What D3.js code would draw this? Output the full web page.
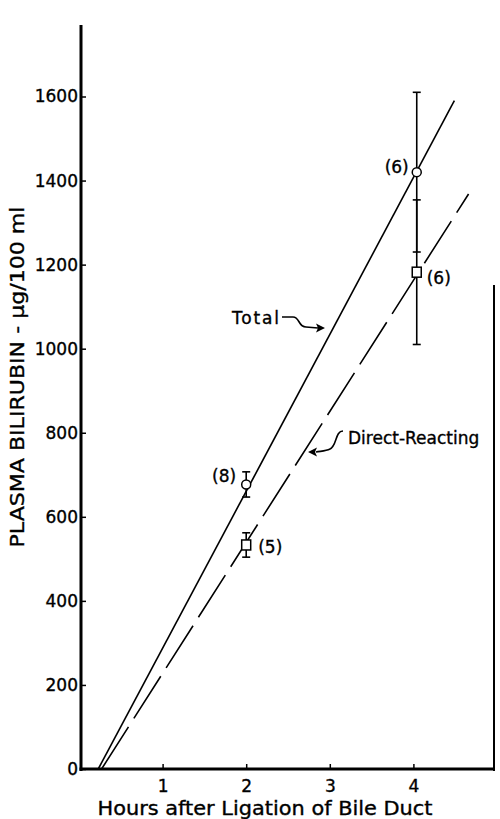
<!DOCTYPE html>
<html>
<head>
<meta charset="utf-8">
<script src="https://cdn.jsdelivr.net/npm/d3@7"></script>
<style>
  body { margin: 0; background: #fff; }
  text { font-family: "DejaVu Sans", sans-serif; fill: #000; stroke: #000; stroke-width: 0.35px; }
</style>
</head>
<body>
<div id="chart"></div>
<script>
// data
var hours = [2, 4.04];
var totalMean = [677, 1420];
var totalErr = [30, 190];
var totalN = [8, 6];
var directMean = [533, 1182];
var directErr = [29, 172];
var directN = [5, 6];
// fitted lines, [hours, value] at each end
var totalFit = [[0.23, 0], [4.49, 1590]];
var directFit = [[0.27, 0], [4.66, 1368]];
var xTicks = [1, 2, 3, 4];
var yTicks = [0, 200, 400, 600, 800, 1000, 1200, 1400, 1600];

var width = 500, height = 819;

var x = d3.scaleLinear().domain([0, 5]).range([79, 497]);
var y = d3.scaleLinear().domain([0, 1600]).range([769, 96.5]);

var svg = d3.select("#chart").append("svg")
    .attr("width", width)
    .attr("height", height);

// frame lines
svg.append("line")
    .attr("x1", 81).attr("x2", 81)
    .attr("y1", 25).attr("y2", 771)
    .attr("stroke", "#000").attr("stroke-width", 3);
svg.append("line")
    .attr("x1", 494).attr("x2", 494)
    .attr("y1", 285).attr("y2", 771)
    .attr("stroke", "#000").attr("stroke-width", 2);

// axes
var xAxis = svg.append("g")
    .attr("transform", "translate(0," + y(0) + ")")
    .call(d3.axisBottom(x).tickValues(xTicks).tickFormat(d3.format("d"))
        .tickSizeInner(-5).tickSizeOuter(0).tickPadding(11));
xAxis.select(".domain").remove();
xAxis.append("line")
    .attr("x1", 79.5).attr("x2", 495)
    .attr("stroke", "#000").attr("stroke-width", 3);
xAxis.selectAll(".tick line").attr("stroke-width", 1.5);
xAxis.selectAll(".tick text").style("font-size", "17px").attr("fill", "#000");

var yAxis = svg.append("g")
    .attr("transform", "translate(81,0)")
    .call(d3.axisLeft(y).tickValues(yTicks).tickFormat(d3.format("d"))
        .tickSizeInner(-5).tickSizeOuter(0).tickPadding(3));
yAxis.select(".domain").remove();
yAxis.selectAll(".tick line").attr("stroke-width", 1.5);
yAxis.selectAll(".tick text").style("font-size", "17px").attr("fill", "#000");

// axis titles
svg.append("text")
    .attr("transform", "translate(24,377) rotate(-90)")
    .attr("text-anchor", "middle")
    .attr("textLength", 341)
    .attr("lengthAdjust", "spacingAndGlyphs")
    .style("font-size", "20px")
    .text("PLASMA BILIRUBIN - \u03bcg/100 ml");

svg.append("text")
    .attr("x", 265).attr("y", 815)
    .attr("text-anchor", "middle")
    .attr("textLength", 335)
    .attr("lengthAdjust", "spacingAndGlyphs")
    .style("font-size", "19px")
    .text("Hours after Ligation of Bile Duct");

// fitted lines
var line = d3.line().x(function(d) { return x(d[0]); }).y(function(d) { return y(d[1]); });
svg.append("path").datum(totalFit)
    .attr("d", line)
    .attr("fill", "none").attr("stroke", "#000").attr("stroke-width", 1.6);
svg.append("path").datum(directFit)
    .attr("d", line)
    .attr("fill", "none").attr("stroke", "#000").attr("stroke-width", 1.6)
    .attr("stroke-dasharray", "50,10");

// error bars
function errBars(mean, err) {
    var g = svg.append("g");
    hours.forEach(function(h, i) {
        var cx = x(h);
        g.append("line")
            .attr("x1", cx).attr("x2", cx)
            .attr("y1", y(mean[i] - err[i])).attr("y2", y(mean[i] + err[i]))
            .attr("stroke", "#000").attr("stroke-width", 1.6);
        [mean[i] - err[i], mean[i] + err[i]].forEach(function(v) {
            g.append("line")
                .attr("x1", cx - 4).attr("x2", cx + 4)
                .attr("y1", y(v)).attr("y2", y(v))
                .attr("stroke", "#000").attr("stroke-width", 1.6);
        });
    });
}
errBars(totalMean, totalErr);
errBars(directMean, directErr);

// points
svg.append("g").selectAll("circle")
    .data(hours)
    .enter().append("circle")
    .attr("cx", function(d) { return x(d); })
    .attr("cy", function(d, i) { return y(totalMean[i]); })
    .attr("r", 4.5)
    .attr("fill", "#fff").attr("stroke", "#000").attr("stroke-width", 1.5);

svg.append("g").selectAll("rect")
    .data(hours)
    .enter().append("rect")
    .attr("x", function(d) { return x(d) - 4.5; })
    .attr("y", function(d, i) { return y(directMean[i]) - 5; })
    .attr("width", 9).attr("height", 10)
    .attr("fill", "#fff").attr("stroke", "#000").attr("stroke-width", 1.5);

// n labels
svg.append("text").attr("x", x(hours[0]) - 10).attr("y", y(totalMean[0]) - 2)
    .attr("text-anchor", "end").style("font-size", "17px").text("(" + totalN[0] + ")");
svg.append("text").attr("x", x(hours[1]) - 8).attr("y", y(totalMean[1]) + 1)
    .attr("text-anchor", "end").style("font-size", "17px").text("(" + totalN[1] + ")");
svg.append("text").attr("x", x(hours[0]) + 12).attr("y", y(directMean[0]) + 8)
    .style("font-size", "17px").text("(" + directN[0] + ")");
svg.append("text").attr("x", x(hours[1]) + 10).attr("y", y(directMean[1]) + 12)
    .style("font-size", "17px").text("(" + directN[1] + ")");

// series labels with curly arrows
svg.append("text").attr("x", 232).attr("y", 324)
    .style("font-size", "17px").style("letter-spacing", "1.8px").text("Total");
svg.append("path")
    .attr("d", "M282,317 L293,317 C300,317 298,327 306,327 L318,328")
    .attr("fill", "none").attr("stroke", "#000").attr("stroke-width", 1.6);
svg.append("path")
    .attr("d", "M325,328 L316,323.5 L318,328 L316,332.5 Z")
    .attr("fill", "#000");

svg.append("text").attr("x", 348).attr("y", 444)
    .style("font-size", "17px").text("Direct-Reacting");
svg.append("path")
    .attr("d", "M343,431 C335,431 337,446 330,449 C326,451 322,451 316,452")
    .attr("fill", "none").attr("stroke", "#000").attr("stroke-width", 1.6);
svg.append("path")
    .attr("d", "M308,452 L317,447.5 L315,452 L317,456.5 Z")
    .attr("fill", "#000");
</script>
</body>
</html>
